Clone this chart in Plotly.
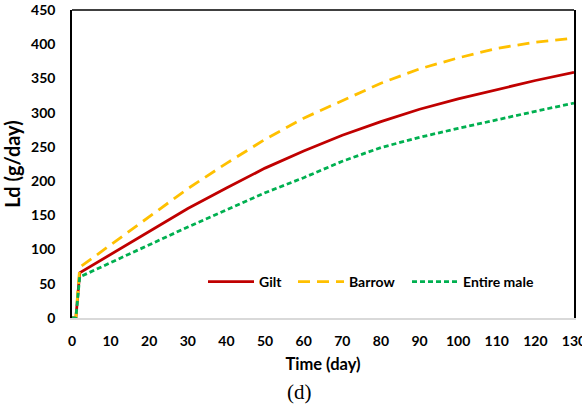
import plotly.graph_objects as go

days = [0, 1, 2, 10, 20, 30, 40, 50, 60, 70, 80, 90, 100, 110, 120, 130]
gilt = [0, 0, 66, 93, 127, 160, 190, 219, 244, 267, 287, 305, 320, 334, 347, 359]
barrow = [0, 0, 74, 107, 148, 189, 226, 261, 292, 318, 343, 364, 380, 394, 403, 409]
entire_male = [0, 0, 60, 81, 107, 133, 158, 183, 205, 229, 249, 264, 277, 290, 302, 314]

x_ticks = list(range(0, 131, 10))
y_ticks = list(range(0, 451, 50))

FONT = "Lato"

fig = go.Figure()
fig.add_trace(go.Scatter(x=days, y=gilt, mode="lines", name="Gilt", legend="legend",
                         line=dict(color="#C00000", width=2.8)))
fig.add_trace(go.Scatter(x=days, y=barrow, mode="lines", name="Barrow", legend="legend2",
                         line=dict(color="#FFC000", width=2.8, dash="12px,7px")))
fig.add_trace(go.Scatter(x=days, y=entire_male, mode="lines", name="Entire male", legend="legend3",
                         line=dict(color="#00B050", width=2.8, dash="5px,3px")))

PLOT_L, PLOT_W = 72, 502
LEG_Y = 0.117


def leg(screen_x):
    return dict(orientation="h", x=(screen_x - 6 - PLOT_L) / PLOT_W, y=LEG_Y,
                xanchor="left", yanchor="middle",
                font=dict(family=FONT, size=14, color="#000", weight="bold"),
                bgcolor="rgba(0,0,0,0)", itemwidth=46)


fig.update_layout(
    width=582, height=411,
    margin=dict(l=72, r=8, t=10, b=93),
    paper_bgcolor="white", plot_bgcolor="white",
    font=dict(family=FONT, size=14, color="#000000"),
    showlegend=True,
    legend=leg(209), legend2=leg(299), legend3=leg(413),
    xaxis=dict(range=[0, 130], tickvals=x_ticks, showgrid=False, zeroline=False,
               showline=True, linecolor="#D9D9D9", linewidth=1.5, ticks="",
               automargin=False, ticklabelstandoff=9, ticklabeloverflow="allow",
               tickfont=dict(family=FONT, size=14, weight="bold"),
               title=dict(text="Time (day)", font=dict(family=FONT, size=16.5, weight="bold"), standoff=11)),
    yaxis=dict(range=[0, 450], tickvals=y_ticks, showgrid=False, zeroline=False,
               showline=True, mirror=True, linecolor="#000000", linewidth=1.5, ticks="",
               automargin=False, ticklabelstandoff=12, ticklabeloverflow="allow",
               tickfont=dict(family=FONT, size=14, weight="bold"),
               title=dict(text="Ld (g/day)", font=dict(family=FONT, size=20, weight="bold"), standoff=8)),
    shapes=[dict(type="line", xref="paper", yref="paper", x0=0, x1=1, y0=1, y1=1,
                 line=dict(color="#000000", width=1.5))],
    annotations=[dict(text="(d)", xref="paper", yref="paper", x=(299 - PLOT_L) / PLOT_W, y=-(392 - 318) / 308,
                      xanchor="center", yanchor="middle", showarrow=False,
                      font=dict(family="Liberation Serif", size=21, color="#000"))],
)

fig.write_html("out.html", config={"displayModeBar": False},
               post_script="document.body.style.margin='0';")
